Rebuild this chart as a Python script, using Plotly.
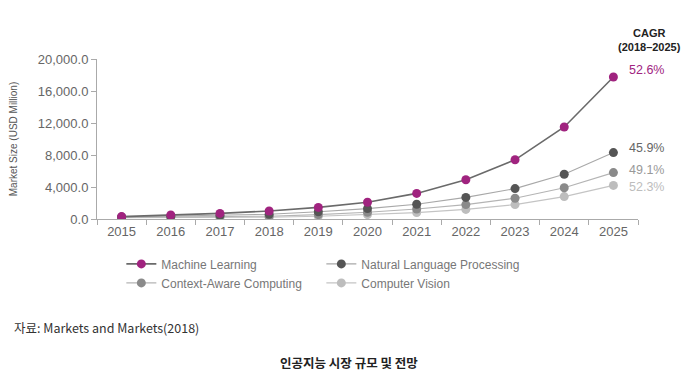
import plotly.graph_objects as go

years = ["2015", "2016", "2017", "2018", "2019", "2020", "2021", "2022", "2023", "2024", "2025"]
machine_learning = [300, 500, 700, 1000, 1450, 2100, 3200, 4900, 7400, 11500, 17750]
nlp = [250, 350, 450, 600, 900, 1300, 1850, 2700, 3800, 5600, 8300]
context_aware = [200, 250, 300, 350, 550, 850, 1250, 1800, 2600, 3900, 5800]
computer_vision = [150, 180, 200, 220, 350, 550, 800, 1200, 1800, 2800, 4200]

series_names = ["Machine Learning", "Natural Language Processing", "Context-Aware Computing", "Computer Vision"]
series_values = [machine_learning, nlp, context_aware, computer_vision]
cagr_labels = ["52.6%", "45.9%", "49.1%", "52.3%"]

marker_colors = ["#a0237f", "#555555", "#8a8a8a", "#bdbdbd"]
line_colors = ["#6a6a6a", "#a8a8a8", "#b4b4b4", "#c4c4c4"]
line_widths = [1.6, 1.1, 1.1, 1.1]
label_colors = ["#a0237f", "#666666", "#999999", "#bdbdbd"]
label_yshift = [7, 5, 3, -2]

font_main = "Liberation Sans, Arial, sans-serif"

L, R, T, B = 97, 61, 59, 161
W, H = 699, 380
pw, ph = W - L - R, H - T - B

fig = go.Figure()
# draw lighter series first so ML is on top
for i in [3, 2, 1, 0]:
    fig.add_trace(go.Scatter(
        x=years, y=series_values[i], name=series_names[i], mode="lines+markers",
        line=dict(color=line_colors[i], width=line_widths[i]),
        marker=dict(color=marker_colors[i], size=9),
        legendrank=i,
    ))

last_idx = len(years) - 1
for i in range(4):
    fig.add_annotation(
        x=last_idx, y=series_values[i][-1], xref="x", yref="y",
        text=cagr_labels[i], showarrow=False, xanchor="left", yanchor="middle",
        xshift=14, yshift=label_yshift[i],
        font=dict(family=font_main, size=12.5, color=label_colors[i]),
    )

fig.add_annotation(
    x=(649 - L) / pw, y=(H - B - 55) / ph, xref="paper", yref="paper",
    text="<b>CAGR</b><br><b>(2018–2025)</b>", showarrow=False,
    xanchor="center", yanchor="bottom", align="center",
    font=dict(family="Liberation Sans Narrow, Arial Narrow, Liberation Sans, sans-serif", size=11, color="#222222"),
)

fig.add_annotation(
    x=(12 - L) / pw, y=(H - B - 327) / ph, xref="paper", yref="paper",
    text="자료: Markets and Markets(2018)", showarrow=False,
    xanchor="left", yanchor="middle",
    font=dict(family="Noto Sans CJK KR", size=12.5, color="#333333"),
)
fig.add_annotation(
    x=(349 - L) / pw, y=(H - B - 362) / ph, xref="paper", yref="paper",
    text="<b>인공지능 시장 규모 및 전망</b>", showarrow=False,
    xanchor="center", yanchor="middle",
    font=dict(family="Noto Sans CJK KR", size=12.5, color="#222222"),
)

fig.update_layout(
    width=W, height=H,
    margin=dict(l=L, r=R, t=T, b=B),
    paper_bgcolor="white", plot_bgcolor="white",
    font=dict(family=font_main, color="#666666"),
    showlegend=True,
    hovermode=False,
    legend=dict(
        orientation="h", x=0.045, y=-0.19, xanchor="left", yanchor="top",
        entrywidth=155, entrywidthmode="pixels",
        font=dict(family=font_main, size=12, color="#777777"),
        traceorder="normal", itemwidth=30,
    ),
    xaxis=dict(
        type="category", tickson="boundaries", ticks="outside", ticklen=5,
        tickcolor="#aaaaaa", showline=True, linecolor="#aaaaaa", linewidth=1,
        showgrid=False, zeroline=False,
        tickfont=dict(family=font_main, size=13, color="#666666"),
        range=[-0.5, 10.5],
    ),
    yaxis=dict(
        range=[0, 20000], tickvals=[0, 4000, 8000, 12000, 16000, 20000],
        tickformat=",.1f", ticks="outside", ticklen=5, tickcolor="#aaaaaa",
        showline=True, linecolor="#aaaaaa", linewidth=1,
        showgrid=False, zeroline=False,
        tickfont=dict(family=font_main, size=13, color="#666666"),
        title=dict(text="Market Size (USD Million)", standoff=18,
                   font=dict(family=font_main, size=10, color="#555555")),
    ),
)

fig.write_html("out.html", config={"displayModeBar": False},
               post_script="document.body.style.margin='0';document.body.style.overflow='hidden';")
